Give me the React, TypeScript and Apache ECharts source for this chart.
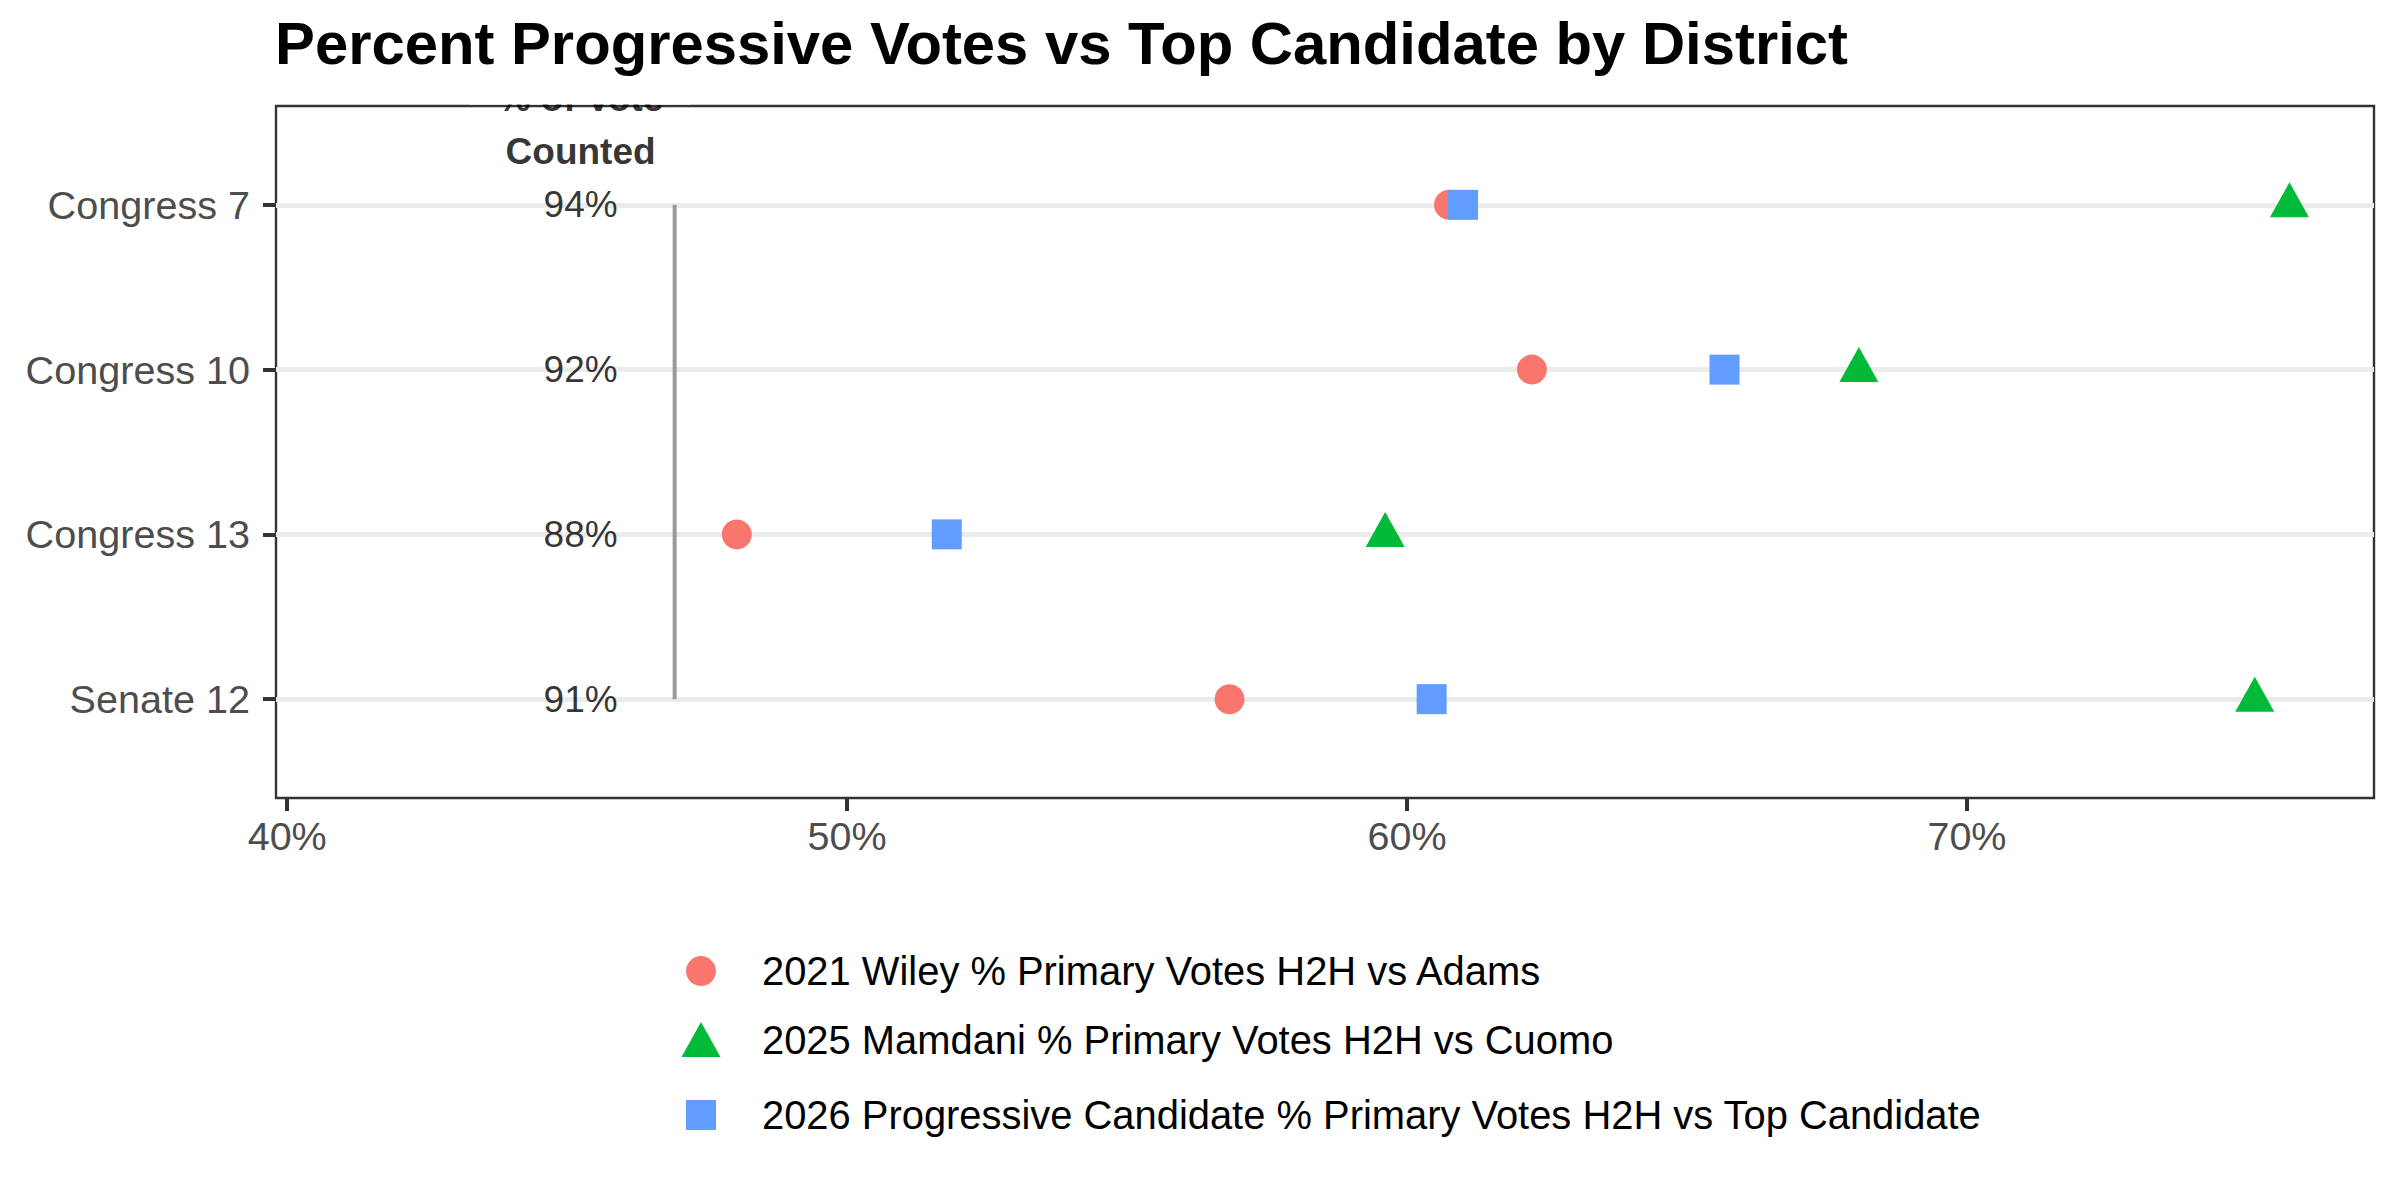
import React, { useEffect, useRef } from "react";
import * as echarts from "echarts";

const categories = ["Congress 7", "Congress 10", "Congress 13", "Senate 12"];
const wiley2021 = [60.75, 62.23, 48.03, 56.83];
const mamdani2025 = [75.76, 68.07, 59.61, 75.14];
const progressive2026 = [61.0, 65.67, 51.78, 60.44];
const pctCounted = [94, 92, 88, 91];
const xTicks = [40, 50, 60, 70];
const yTicks = [1, 2, 3, 4];
const seriesNames = [
  "2021 Wiley % Primary Votes H2H vs Adams",
  "2025 Mamdani % Primary Votes H2H vs Cuomo",
  "2026 Progressive Candidate % Primary Votes H2H vs Top Candidate",
];
const colors = ["#F8766D", "#00BA38", "#619CFF"];
const countedLabelX = 45.24;
const countedHeaderY = 0.514;
const refLineX = 46.92;
const xMin = 39.8;
const xMax = 77.27;
const yMin = 0.4;
const yMax = 4.6;

const FONT = "'Liberation Sans', Arial, Helvetica, sans-serif";

export default function App() {
  const ref = useRef<HTMLDivElement>(null);

  useEffect(() => {
    document.body.style.margin = "0";
    if (!ref.current) return;
    const chart = echarts.init(ref.current, undefined, { renderer: "svg" });

    const pts = (vals: number[]) => vals.map((v, i) => [v, i + 1]);

    const option: any = {
      animation: false,
      backgroundColor: "#ffffff",
      textStyle: { fontFamily: FONT },
      title: {
        text: "Percent Progressive Votes vs Top Candidate by District",
        left: 275,
        top: 13,
        padding: 0,
        textStyle: {
          fontFamily: FONT,
          fontSize: 59.8,
          fontWeight: "bold",
          color: "#000000",
        },
      },
      grid: {
        left: 276,
        top: 106,
        right: 26,
        bottom: 402,
        show: true,
        borderColor: "#333333",
        borderWidth: 2.4,
        backgroundColor: "transparent",
        containLabel: false,
      },
      xAxis: {
        type: "value",
        min: xMin,
        max: xMax,
        axisLine: { show: false },
        splitLine: { show: false },
        axisTick: {
          show: true,
          customValues: xTicks,
          length: 13,
          lineStyle: { color: "#333333", width: 4 },
        },
        axisLabel: {
          show: true,
          customValues: xTicks,
          formatter: (v: number) => `${v}%`,
          color: "#4d4d4d",
          fontSize: 39.5,
          fontFamily: FONT,
          margin: 18,
        },
      },
      yAxis: {
        type: "value",
        inverse: true,
        min: yMin,
        max: yMax,
        axisLine: { show: false },
        splitLine: { show: false },
        axisTick: {
          show: true,
          customValues: yTicks,
          length: 13,
          lineStyle: { color: "#333333", width: 4 },
        },
        axisLabel: {
          show: true,
          customValues: yTicks,
          formatter: (v: number) => categories[Math.round(v) - 1] ?? "",
          color: "#4d4d4d",
          fontSize: 39.6,
          fontFamily: FONT,
          margin: 26,
        },
      },
      legend: [0, 1, 2].map((k) => {
        const icons = ["circle", "triangle", "rect"];
        const w = [30, 39, 30][k];
        const h = [30, 35, 30][k];
        const left = [686, 681.5, 686][k];
        const centerY = [966, 1037, 1110][k];
        return {
          data: [{ name: seriesNames[k], icon: icons[k] }],
          orient: "vertical",
          left,
          top: centerY - h / 2,
          padding: 0,
          itemWidth: w,
          itemHeight: h,
          selectedMode: false,
          textStyle: {
            fontFamily: FONT,
            fontSize: 39.9,
            color: "#000000",
            lineHeight: 30,
            padding: [0, 0, 0, 762 - (left + w + 5)],
          },
        };
      }),
      graphic: [
        {
          type: "rect",
          z: 100,
          shape: { x: 470, y: 81, width: 220, height: 23.5 },
          style: { fill: "#ffffff" },
          silent: true,
        },
      ],
      series: [
        {
          name: "gridlines",
          type: "line",
          data: [],
          z: 1,
          silent: true,
          markLine: {
            z: 1,
            silent: true,
            symbol: ["none", "none"],
            label: { show: false },
            lineStyle: { color: "#ebebeb", width: 5, type: "solid" },
            data: yTicks.map((y) => ({ yAxis: y })),
          },
        },
        {
          name: "refline",
          type: "line",
          data: [
            [refLineX, yTicks[0]],
            [refLineX, yTicks[yTicks.length - 1]],
          ],
          symbol: "none",
          lineStyle: { color: "#999999", width: 4 },
          z: 2,
          silent: true,
        },
        {
          name: "counted",
          type: "scatter",
          data: pctCounted.map((p, i) => [countedLabelX, i + 1, p]),
          symbolSize: 1,
          itemStyle: { color: "rgba(0,0,0,0)" },
          z: 3,
          silent: true,
          label: {
            show: true,
            position: "inside",
            formatter: (p: any) => `${p.value[2]}%`,
            color: "#000000",
            fontSize: 37,
            fontFamily: FONT,
          },
        },
        {
          name: "countedHeader",
          type: "scatter",
          clip: false,
          data: [[countedLabelX, countedHeaderY]],
          symbolSize: 1,
          itemStyle: { color: "rgba(0,0,0,0)" },
          z: 3,
          silent: true,
          label: {
            show: true,
            position: "inside",
            formatter: "% of Vote\nCounted",
            color: "#000000",
            fontSize: 37,
            fontWeight: "bold",
            lineHeight: 53,
            fontFamily: FONT,
          },
        },
        {
          name: seriesNames[0],
          type: "scatter",
          data: pts(wiley2021),
          symbol: "circle",
          symbolSize: 30,
          itemStyle: { color: colors[0], opacity: 1 },
          z: 4,
        },
        {
          name: seriesNames[1],
          type: "scatter",
          data: pts(mamdani2025),
          symbol: "triangle",
          symbolSize: [39, 35],
          symbolOffset: [0, -5],
          itemStyle: { color: colors[1], opacity: 1 },
          z: 4,
        },
        {
          name: seriesNames[2],
          type: "scatter",
          data: pts(progressive2026),
          symbol: "rect",
          symbolSize: [30, 30],
          itemStyle: { color: colors[2], opacity: 1 },
          z: 4,
        },
      ],
    };

    chart.setOption(option);
    return () => chart.dispose();
  }, []);

  return <div ref={ref} style={{ width: 2400, height: 1200 }} />;
}
